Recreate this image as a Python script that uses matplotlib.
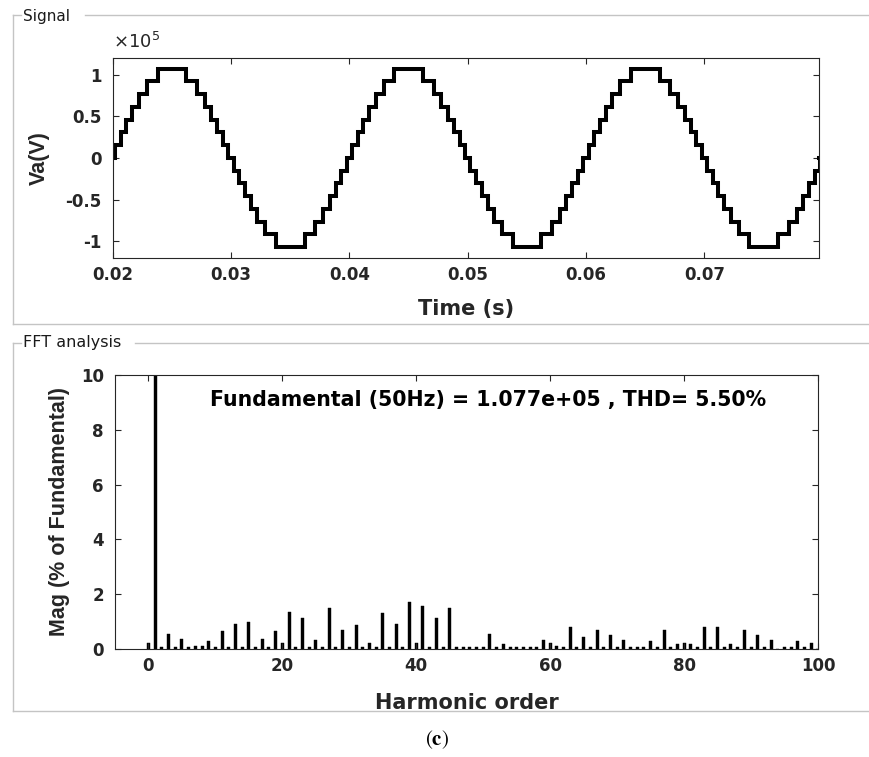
import numpy as np
import matplotlib
matplotlib.use('Agg')
import matplotlib.pyplot as plt
from matplotlib.lines import Line2D
from matplotlib.ticker import FuncFormatter

plt.rcParams['axes.unicode_minus'] = False

# staircase signal (15-level)
v_step = 15300                                           # V per level
t_switch = [0.23, 0.69, 1.16, 1.67, 2.22, 2.88, 3.79]    # ms after zero crossing
t_start, t_end = 0.020, 0.0797
n_periods = 3

# FFT, harmonics 0..100 (% of fundamental)
harmonics = list(range(0, 101))
mag = [0.22, 100, 0.06, 0.55, 0.06, 0.38, 0.06, 0.11, 0.10, 0.28,
       0.06, 0.65, 0.06, 0.93, 0.06, 0.98, 0.06, 0.38, 0.06, 0.65,
       0.22, 1.34, 0.06, 1.13, 0.06, 0.32, 0.06, 1.50, 0.06, 0.70,
       0.06, 0.87, 0.06, 0.22, 0.06, 1.30, 0.06, 0.93, 0.06, 1.72,
       0.22, 1.57, 0.06, 1.13, 0.06, 1.50, 0.06, 0.06, 0.06, 0.06,
       0.06, 0.55, 0.06, 0.20, 0.06, 0.06, 0.06, 0.06, 0.06, 0.32,
       0.22, 0.12, 0.06, 0.81, 0.06, 0.44, 0.06, 0.70, 0.06, 0.50,
       0.06, 0.32, 0.06, 0.06, 0.06, 0.28, 0.06, 0.70, 0.06, 0.18,
       0.22, 0.18, 0.06, 0.81, 0.06, 0.81, 0.06, 0.18, 0.06, 0.70,
       0.06, 0.50, 0.06, 0.34, 0.00, 0.06, 0.06, 0.28, 0.06, 0.22,
       0.00]
fund_text = 'Fundamental (50Hz) = 1.077e+05 , THD= 5.50%'

# build the step waveform from the switching instants
edges = []
for p in range(n_periods):
    t0 = 20 + 20 * p
    for k, ts in enumerate(t_switch):
        edges.append((t0 + ts, k + 1))
    for k, ts in reversed(list(enumerate(t_switch))):
        edges.append((t0 + 10 - ts, k))
    for k, ts in enumerate(t_switch):
        edges.append((t0 + 10 + ts, -(k + 1)))
    for k, ts in reversed(list(enumerate(t_switch))):
        edges.append((t0 + 20 - ts, -k))
t = [t_start] + [e[0] / 1000 for e in edges] + [t_end]
v = [0] + [e[1] * v_step for e in edges]
v = v + [v[-1]]

W, H = 869, 757
fig = plt.figure(figsize=(W / 100, H / 100), dpi=100)

dark = '#262626'
tickfont = dict(family='DejaVu Sans', weight='bold', size=12)

def style_axes(ax):
    for s in ax.spines.values():
        s.set_color(dark)
        s.set_linewidth(0.8)
    ax.tick_params(direction='in', length=4, width=0.8, color=dark,
                   top=True, right=True, labelcolor=dark)
    ax.tick_params(axis='x', pad=6)
    ax.tick_params(axis='y', pad=8)
    for lab in ax.get_xticklabels() + ax.get_yticklabels():
        lab.set_fontproperties(matplotlib.font_manager.FontProperties(**tickfont))

# --- Signal panel ---
ax1 = fig.add_axes([112.7 / W, 1 - 258 / H, 706.6 / W, 200 / H])
ax1.plot(t, v, drawstyle='steps-post', color='black', lw=2.9, solid_joinstyle='miter')
ax1.set_xlim(t_start, t_end)
ax1.set_ylim(-1.2e5, 1.2e5)
ax1.set_xticks([0.02, 0.03, 0.04, 0.05, 0.06, 0.07])
ax1.xaxis.set_major_formatter(FuncFormatter(lambda x, _: f'{x:.2f}'))
ax1.set_yticks([-1e5, -0.5e5, 0, 0.5e5, 1e5])
ax1.yaxis.set_major_formatter(FuncFormatter(lambda y, _: f'{y / 1e5:g}'))
style_axes(ax1)
ax1.text(0.0, 1.03, r'$\times10^{5}$', transform=ax1.transAxes, fontsize=13,
         color=dark, ha='left', va='bottom')
ax1.set_xlabel('Time (s)', family='DejaVu Sans', weight='bold', size=15, color=dark)
ax1.xaxis.set_label_coords(0.5, -0.205)
ax1.xaxis.label.set_va('top')
ax1.set_ylabel('Va(V)', family='Liberation Sans', weight='bold', size=15.5, color=dark)
ax1.yaxis.set_label_coords(-0.089, 0.5)

# --- FFT panel ---
ax2 = fig.add_axes([115 / W, 1 - 649 / H, 703 / W, 274 / H])
ax2.bar(harmonics, mag, width=0.45, color='black', edgecolor='black', linewidth=0.3)
ax2.set_xlim(-5, 100)
ax2.set_ylim(0, 10)
ax2.set_xticks([0, 20, 40, 60, 80, 100])
ax2.set_yticks([0, 2, 4, 6, 8, 10])
style_axes(ax2)
ax2.set_xlabel('Harmonic order', family='DejaVu Sans', weight='bold', size=15, color=dark)
ax2.xaxis.set_label_coords(0.5, -0.16)
ax2.xaxis.label.set_va('top')
ax2.set_ylabel('Mag (% of Fundamental)', family='Liberation Sans', weight='bold',
               size=15.5, color=dark)
ax2.yaxis.set_label_coords(-0.064, 0.5)
ax2.text((210 - 115) / 703, 1 - (400 - 375) / 274, fund_text, transform=ax2.transAxes,
         family='DejaVu Sans', weight='bold', size=14.8, color='black',
         ha='left', va='center')

# --- panel frames ---
frame = '#c4c4c4'
def hline(x0, x1, y):
    fig.add_artist(Line2D([x0 / W, x1 / W], [1 - y / H, 1 - y / H], color=frame, lw=1))
def vline(x, y0, y1):
    fig.add_artist(Line2D([x / W, x / W], [1 - y0 / H, 1 - y1 / H], color=frame, lw=1))

hline(12.5, 21, 15)
hline(85, W, 15)
vline(12.5, 15, 324)
hline(12.5, W, 324)
fig.text(23 / W, 1 - 16 / H, 'Signal', family='DejaVu Sans', size=11, color='#1a1a1a',
         ha='left', va='center')

hline(12.5, 21, 343)
hline(135, W, 343)
vline(12.5, 343, 711)
hline(12.5, W, 711)
fig.text(23 / W, 1 - 343 / H, 'FFT analysis', family='DejaVu Sans', size=11.5,
         color='#1a1a1a', ha='left', va='center')

fig.text(437 / W, 1 - 740 / H, r'$(\mathbf{c})$', math_fontfamily='stix', size=15,
         color='black', ha='center', va='center')

fig.savefig('out.png', dpi=100)
